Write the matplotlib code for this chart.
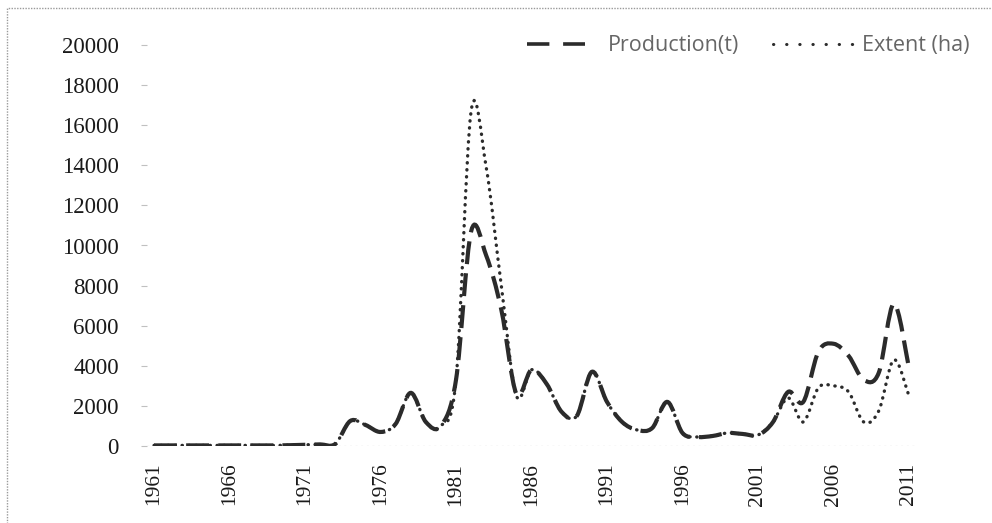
import matplotlib
matplotlib.use("Agg")
import matplotlib.pyplot as plt
from matplotlib.path import Path
from matplotlib.patches import PathPatch, Rectangle
from matplotlib.lines import Line2D
import numpy as np

years = list(range(1961, 2012))

production = [30, 30, 30, 30, 30, 30, 30, 30, 30, 40,
              60, 80, 100, 1250, 1050, 700, 1100, 2650, 1200, 1000,
              3300, 10700, 9500, 6800, 2600, 3800, 3100, 1700, 1500, 3700,
              2200, 1200, 800, 900, 2200, 650, 450, 500, 650, 600,
              550, 1200, 2700, 2200, 4700, 5100, 4500, 3300, 3650, 7100,
              3900]

extent = [30, 30, 30, 30, 30, 30, 30, 30, 30, 40,
          60, 80, 100, 1250, 1050, 700, 1100, 2650, 1200, 1000,
          3300, 16700, 13900, 8000, 2500, 3800, 3100, 1700, 1500, 3700,
          2200, 1200, 800, 900, 2200, 650, 450, 500, 650, 600,
          550, 1200, 2400, 1200, 2900, 3000, 2700, 1200, 1750, 4300,
          2500]

y_ticks = list(range(0, 20001, 2000))
x_ticks = list(range(1961, 2012, 5))

line_col = "#2b2b2b"


def smooth_path(xs, ys):
    # excel-style smoothed line: catmull-rom segments as cubic beziers
    pts = np.column_stack([xs, ys]).astype(float)
    n = len(pts)
    verts = [pts[0]]
    codes = [Path.MOVETO]
    for i in range(n - 1):
        p0 = pts[i - 1] if i > 0 else pts[i]
        p1 = pts[i]
        p2 = pts[i + 1]
        p3 = pts[i + 2] if i + 2 < n else pts[i + 1]
        c1 = p1 + (p2 - p0) / 6.0
        c2 = p2 - (p3 - p1) / 6.0
        verts += [c1, c2, p2]
        codes += [Path.CURVE4] * 3
    return Path(verts, codes)


fig = plt.figure(figsize=(9.92, 5.23), dpi=100)
ax = fig.add_axes([146.5 / 992, 77 / 523, 770 / 992, 401 / 523])

ax.axhline(0, color="#c8c8c8", lw=0.9, ls=(0, (1.5, 3)), zorder=1)

ax.add_patch(PathPatch(smooth_path(years, production), fill=False,
                       edgecolor=line_col, lw=3.0, linestyle=(0, (5.5, 2.2)),
                       capstyle="butt", transform=ax.transData, zorder=3))
ax.add_patch(PathPatch(smooth_path(years, extent), fill=False,
                       edgecolor=line_col, lw=2.4, linestyle=(0, (0.1, 2.0)),
                       capstyle="round", transform=ax.transData, zorder=3))

ax.set_xlim(1960.5, 2011.5)
ax.set_ylim(0, 20000)

for s in ax.spines.values():
    s.set_visible(False)

ax.set_yticks(y_ticks)
ax.set_yticklabels([str(v) for v in y_ticks], fontfamily="Liberation Serif",
                   fontsize=16.5, color="#1a1a1a")
ax.tick_params(axis="y", length=4, width=0.8, color="#c0c0c0", pad=16)

ax.set_xticks(x_ticks)
ax.set_xticklabels([str(v) for v in x_ticks], rotation=90,
                   fontfamily="Liberation Serif", fontsize=15.5, color="#1a1a1a")
ax.tick_params(axis="x", length=0, pad=12)

# two legend entries placed separately, as in the source chart
leg_font = {"family": "Open Sans", "size": 15.5}
h_prod = Line2D([], [], color=line_col, lw=2.6, linestyle=(0, (6.2, 3.8)),
                dash_capstyle="butt")
h_ext = Line2D([], [], color=line_col, lw=2.2, linestyle=(0, (0.1, 4.2)),
               dash_capstyle="round")
leg1 = fig.legend([h_prod], ["Production(t)"], frameon=False, loc="center left",
                  bbox_to_anchor=(527 / 992, 1 - 46 / 523), prop=leg_font,
                  labelcolor="#666666", handlelength=2.7, handletextpad=1.05,
                  borderpad=0, borderaxespad=0)
leg2 = fig.legend([h_ext], ["Extent (ha)"], frameon=False, loc="center left",
                  bbox_to_anchor=(773 / 992, 1 - 46 / 523), prop=leg_font,
                  labelcolor="#666666", handlelength=3.7, handletextpad=0.45,
                  borderpad=0, borderaxespad=0)

# faint scan border on top and left
fig.patches.append(Rectangle((0.007, -0.02), 1.1, 1.005, transform=fig.transFigure,
                             fill=False, edgecolor="#9a9a9a", lw=1.0,
                             linestyle=(0, (1, 1))))

fig.savefig("out.png", dpi=100)
